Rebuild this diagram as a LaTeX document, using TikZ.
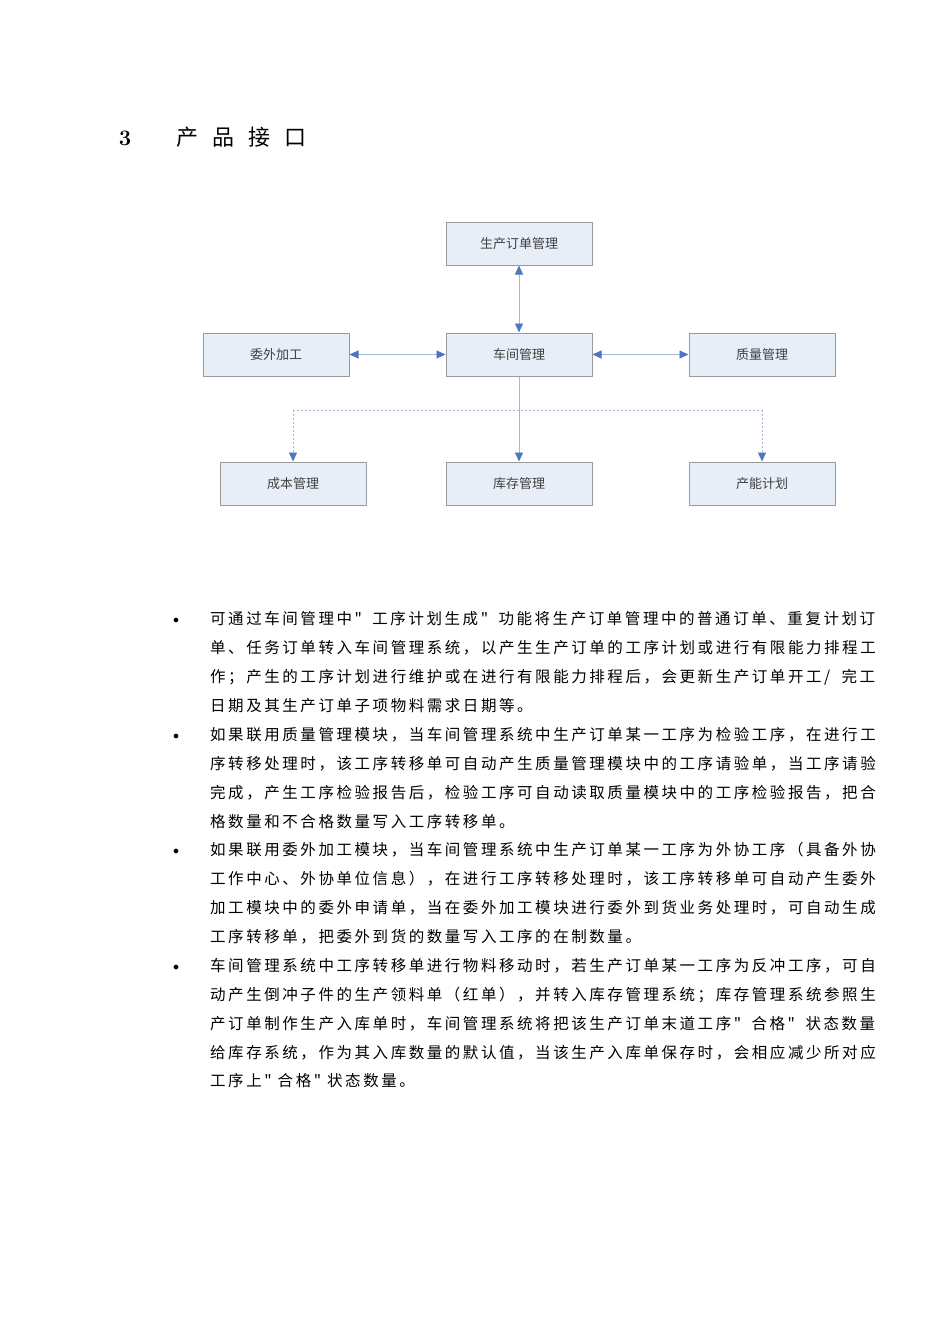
\documentclass[tikz,border=0pt]{standalone}
\usepackage{fontspec}
\newfontfamily\cjk{Noto Sans CJK SC}
\newfontfamily\cjkls[LetterSpace=16.5]{Noto Sans CJK SC}
\usetikzlibrary{arrows.meta}
\definecolor{boxfill}{HTML}{E8EEF8}
\definecolor{boxline}{HTML}{9A9A9A}
\definecolor{arr}{HTML}{4A78C0}
\definecolor{ln}{HTML}{A8B8D4}
\tikzset{
 mod/.style={draw=boxline,fill=boxfill,line width=1pt,minimum width=146pt,minimum height=43pt,inner sep=0pt,font=\cjk\fontsize{13}{13}\selectfont,text=black!75},
 con/.style={draw=ln,line width=0.8pt,{Triangle[length=9pt,width=8pt,fill=arr,color=arr]}-{Triangle[length=9pt,width=8pt,fill=arr,color=arr]}},
 dcon/.style={draw=ln,line width=0.8pt,dashed,dash pattern=on 2pt off 2pt},
 tline/.style={anchor=base west,inner sep=0pt,font=\cjkls\fontsize{15.5}{16}\selectfont},
 bul/.style={anchor=base,inner sep=0pt,font=\fontsize{13}{13}\selectfont}
}
\newcommand{\fl}[1]{\hbox to 665pt{\spaceskip=4pt plus 30pt minus 3pt #1}}
\newcommand{\nl}[1]{\hbox{\spaceskip=6pt #1}}
\begin{document}
\begin{tikzpicture}[x=1pt,y=-1pt]
\useasboundingbox (0,0) rectangle (950,1344);
\node[anchor=base,font=\fontsize{22}{22}\selectfont\bfseries] (t3) at (125,145) {3};
\node[anchor=base west,font=\cjk\fontsize{22}{22}\selectfont] (tt) at (173,145) {产\hspace{14pt}品\hspace{14pt}接\hspace{14pt}口};

\node[mod] (a) at (519,243.5) {生产订单管理};
\node[mod] (b) at (519,354.5) {车间管理};
\node[mod] (c) at (276,354.5) {委外加工};
\node[mod] (d) at (762,354.5) {质量管理};
\node[mod] (e) at (293,483.5) {成本管理};
\node[mod] (f) at (519,483.5) {库存管理};
\node[mod] (g) at (762,483.5) {产能计划};
\draw[con] (a) -- (b);
\draw[con] (c) -- (b);
\draw[con] (d) -- (b);
\coordinate (jl) at (293,410);
\coordinate (jr) at (762,410);
\draw[dcon] (jl) -- (jr);
\draw[draw=ln,line width=0.8pt,-{Triangle[length=9pt,width=8pt,fill=arr,color=arr]}] (b) -- (f);
\draw[dcon,-{Triangle[length=9pt,width=8pt,fill=arr,color=arr]}] (jl) -- (e);
\draw[dcon,-{Triangle[length=9pt,width=8pt,fill=arr,color=arr]}] (jr) -- (g);

\foreach \y/\n in {619/b1,735/b2,850/b3,966/b4} \node[bul] (\n) at (176,\y+4) {$\bullet$};
\node[tline] (l1) at (210,624) {\fl{可通过车间管理中" 工序计划生成" 功能将生产订单管理中的普通订单、重复计划订}};
\node[tline] (l2) at (210,653) {\fl{单、任务订单转入车间管理系统，以产生生产订单的工序计划或进行有限能力排程工}};
\node[tline] (l3) at (210,682) {\fl{作；产生的工序计划进行维护或在进行有限能力排程后，会更新生产订单开工/ 完工}};
\node[tline] (l4) at (210,711) {\nl{日期及其生产订单子项物料需求日期等。}};
\node[tline] (l5) at (210,740) {\fl{如果联用质量管理模块，当车间管理系统中生产订单某一工序为检验工序，在进行工}};
\node[tline] (l6) at (210,769) {\fl{序转移处理时，该工序转移单可自动产生质量管理模块中的工序请验单，当工序请验}};
\node[tline] (l7) at (210,798) {\fl{完成，产生工序检验报告后，检验工序可自动读取质量模块中的工序检验报告，把合}};
\node[tline] (l8) at (210,827) {\nl{格数量和不合格数量写入工序转移单。}};
\node[tline] (l9) at (210,855) {\fl{如果联用委外加工模块，当车间管理系统中生产订单某一工序为外协工序（具备外协}};
\node[tline] (l10) at (210,884) {\fl{工作中心、外协单位信息），在进行工序转移处理时，该工序转移单可自动产生委外}};
\node[tline] (l11) at (210,913) {\fl{加工模块中的委外申请单，当在委外加工模块进行委外到货业务处理时，可自动生成}};
\node[tline] (l12) at (210,942) {\nl{工序转移单，把委外到货的数量写入工序的在制数量。}};
\node[tline] (l13) at (210,971) {\fl{车间管理系统中工序转移单进行物料移动时，若生产订单某一工序为反冲工序，可自}};
\node[tline] (l14) at (210,1000) {\fl{动产生倒冲子件的生产领料单（红单），并转入库存管理系统；库存管理系统参照生}};
\node[tline] (l15) at (210,1029) {\fl{产订单制作生产入库单时，车间管理系统将把该生产订单末道工序" 合格" 状态数量}};
\node[tline] (l16) at (210,1058) {\fl{给库存系统，作为其入库数量的默认值，当该生产入库单保存时，会相应减少所对应}};
\node[tline] (l17) at (210,1086) {\nl{工序上" 合格" 状态数量。}};
\end{tikzpicture}
\end{document}
